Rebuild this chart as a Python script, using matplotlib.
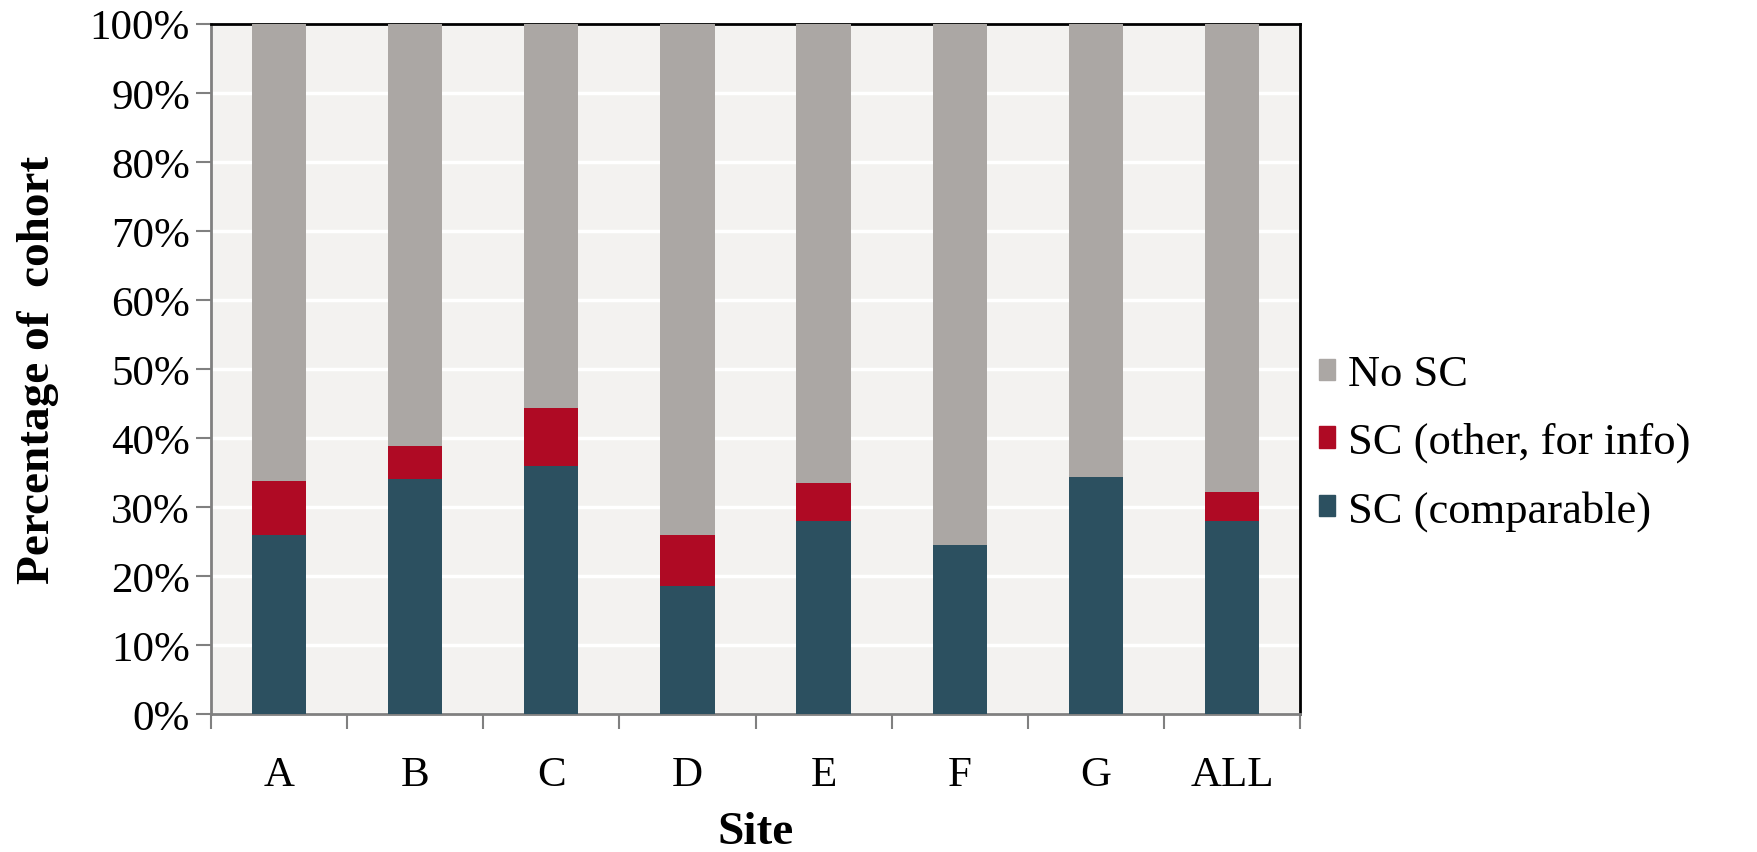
import matplotlib
matplotlib.use("Agg")
import matplotlib.pyplot as plt
import numpy as np
from matplotlib.patches import Patch

sites = ["A", "B", "C", "D", "E", "F", "G", "ALL"]
sc_comparable = [26.0, 34.1, 35.9, 18.6, 28.0, 24.5, 34.4, 28.0]
sc_other = [7.8, 4.7, 8.4, 7.4, 5.5, 0.0, 0.0, 4.1]
no_sc = [100 - a - b for a, b in zip(sc_comparable, sc_other)]
yticks = list(range(0, 101, 10))

c_dark = "#2C5060"
c_red = "#AF0A24"
c_gray = "#ABA7A4"

plt.rcParams['font.family'] = ['Liberation Serif', 'DejaVu Serif']

fig = plt.figure(figsize=(17.57, 8.53), dpi=100)
ax = fig.add_axes([0.12, 0.1618, 0.62, 0.8092])
ax.set_facecolor("#F3F2F0")

x = np.arange(len(sites))
w = 0.4
ax.bar(x, sc_comparable, w, color=c_dark, zorder=3)
ax.bar(x, sc_other, w, bottom=sc_comparable, color=c_red, zorder=3)
bot2 = [a + b for a, b in zip(sc_comparable, sc_other)]
ax.bar(x, no_sc, w, bottom=bot2, color=c_gray, zorder=3)

ax.set_xlim(-0.5, len(sites) - 0.5)
ax.set_ylim(0, 100)
ax.set_yticks(yticks)
ax.set_yticklabels([f"{t}%" for t in yticks], fontsize=31)
ax.yaxis.grid(True, color="white", linewidth=2.5, zorder=1)
ax.set_axisbelow(True)

ax.set_xticks(x)
ax.set_xticklabels(sites, fontsize=31)
ax.set_xticks(np.arange(-0.5, len(sites), 1), minor=True)
ax.tick_params(axis='x', which='major', length=0, pad=30)
ax.tick_params(axis='x', which='minor', length=11, width=1.5, color="#808080", direction='out')
ax.tick_params(axis='y', which='major', length=11, width=1.5, color="#808080", direction='out', pad=4)

for s in ["left", "bottom"]:
    ax.spines[s].set_color("#808080")
    ax.spines[s].set_linewidth(2)
for s in ["top", "right"]:
    ax.spines[s].set_color("black")
    ax.spines[s].set_linewidth(2)

ax.set_xlabel("Site", fontsize=34, fontweight="bold", labelpad=12)
ax.set_ylabel("Percentage of  cohort", fontsize=34, fontweight="bold", labelpad=22)

handles = [Patch(color=c_gray, label="No SC"),
           Patch(color=c_red, label="SC (other, for info)"),
           Patch(color=c_dark, label="SC (comparable)")]
fig.legend(handles=handles, loc="center left", bbox_to_anchor=(0.728, 0.48),
           frameon=False, fontsize=32, handlelength=0.36, handleheight=0.36,
           handletextpad=0.3, labelspacing=0.62)

fig.savefig("out.png", dpi=100)
